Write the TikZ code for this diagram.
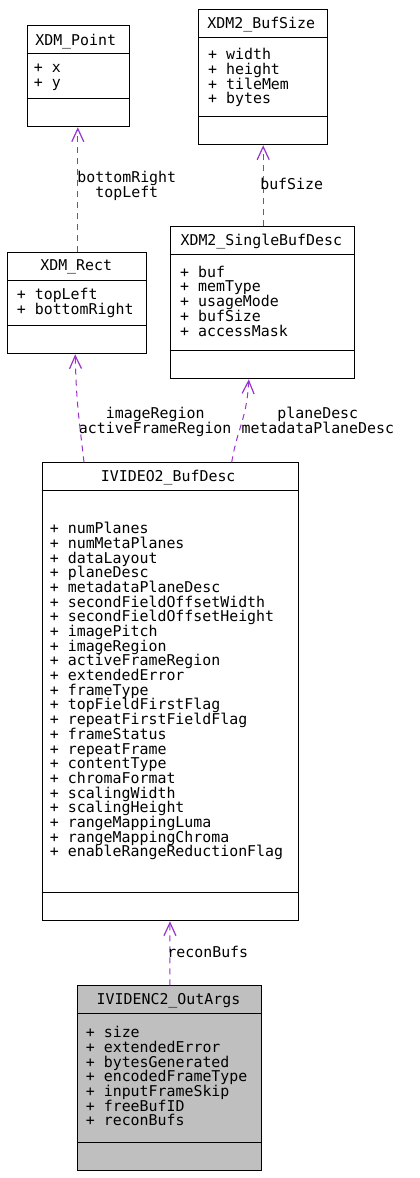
\documentclass[tikz,border=0pt]{standalone}
\usepackage{fontspec}
\newfontfamily\dxfont{DejaVu Sans Mono}
\newcommand\dxsetup{\dxfont\fontsize{14.9}{15}\selectfont\lineskiplimit=-20pt\relax}
\usetikzlibrary{arrows.meta,calc}
\definecolor{edgepurple}{HTML}{9A32CD}
\definecolor{boxgray}{HTML}{BFBFBF}
\begin{document}
\begin{tikzpicture}[x=1pt,y=-1pt,
  every node/.style={font=\dxsetup},
  classbox/.style={draw=black,line width=1pt,rectangle,inner sep=0pt,anchor=north west},
  sepline/.style={draw=black,line width=1pt},
  ttl/.style={anchor=base,inner sep=0pt},
  attr/.style={anchor=base west,inner sep=0pt,align=left},
  elabel/.style={anchor=base,inner sep=0pt,align=center},
  rel/.style={draw=edgepurple,line width=1pt,dash pattern=on 6pt off 5pt,
    -{Straight Barb[length=13pt,width=12pt,line width=1.2pt]}}
]
\useasboundingbox[fill=white] (0,0) rectangle (420,1178);

% XDM_Point
\node[classbox,minimum width=102.6pt,minimum height=101pt] (pt) at (26.7,25.3) {};
\draw[sepline] ($(pt.north west)+(0,28)$) -- ($(pt.north east)+(0,28)$);
\draw[sepline] ($(pt.north west)+(0,73)$) -- ($(pt.north east)+(0,73)$);
\node[ttl] (ptt) at (75.7,45) {XDM\_Point};
\node[attr] (pta1) at (33.7,72.8) {+ x};
\node[attr] (pta2) at (33.7,87.5) {+ y};

% XDM2_BufSize
\node[classbox,minimum width=129pt,minimum height=135pt] (bs) at (198.3,9.3) {};
\draw[sepline] ($(bs.north west)+(0,28)$) -- ($(bs.north east)+(0,28)$);
\draw[sepline] ($(bs.north west)+(0,107)$) -- ($(bs.north east)+(0,107)$);
\node[ttl] (bst) at (261.3,28.8) {XDM2\_BufSize};
\node[attr] (bsa1) at (208,59.8) {+ width};
\node[attr] (bsa2) at (208,74.5) {+ height};
\node[attr] (bsa3) at (208,89.2) {+ tileMem};
\node[attr] (bsa4) at (208,103.9) {+ bytes};

% XDM_Rect
\node[classbox,minimum width=139pt,minimum height=101pt] (rc) at (7.3,252.3) {};
\draw[sepline] ($(rc.north west)+(0,28)$) -- ($(rc.north east)+(0,28)$);
\draw[sepline] ($(rc.north west)+(0,73)$) -- ($(rc.north east)+(0,73)$);
\node[ttl] (rct) at (76.2,270.8) {XDM\_Rect};
\node[attr] (rca1) at (16.7,299.8) {+ topLeft};
\node[attr] (rca2) at (16.7,314.5) {+ bottomRight};

% XDM2_SingleBufDesc
\node[classbox,minimum width=184pt,minimum height=152pt] (sb) at (170.3,226.3) {};
\draw[sepline] ($(sb.north west)+(0,28)$) -- ($(sb.north east)+(0,28)$);
\draw[sepline] ($(sb.north west)+(0,124)$) -- ($(sb.north east)+(0,124)$);
\node[ttl] (sbt) at (261.3,245.8) {XDM2\_SingleBufDesc};
\node[attr] (sba1) at (180,277.2) {+ buf};
\node[attr] (sba2) at (180,291.9) {+ memType};
\node[attr] (sba3) at (180,306.6) {+ usageMode};
\node[attr] (sba4) at (180,321.3) {+ bufSize};
\node[attr] (sba5) at (180,336.0) {+ accessMask};

% IVIDEO2_BufDesc
\node[classbox,minimum width=256pt,minimum height=458pt] (bd) at (41.5,462.3) {};
\draw[sepline] ($(bd.north west)+(0,28)$) -- ($(bd.north east)+(0,28)$);
\draw[sepline] ($(bd.north west)+(0,430)$) -- ($(bd.north east)+(0,430)$);
\node[ttl] (bdt) at (168.2,481.8) {IVIDEO2\_BufDesc};
\coordinate (bda) at (49.7,533.8);
\foreach \t [count=\i from 0] in {numPlanes,numMetaPlanes,dataLayout,planeDesc,metadataPlaneDesc,secondFieldOffsetWidth,secondFieldOffsetHeight,imagePitch,imageRegion,activeFrameRegion,extendedError,frameType,topFieldFirstFlag,repeatFirstFieldFlag,frameStatus,repeatFrame,contentType,chromaFormat,scalingWidth,scalingHeight,rangeMappingLuma,rangeMappingChroma,enableRangeReductionFlag}
  \node[attr] (bda\i) at ($(bda)+(0,\i*14.68)$) {+ \t};

% IVIDENC2_OutArgs
\node[classbox,fill=boxgray,minimum width=184pt,minimum height=185pt] (oa) at (77.3,985.3) {};
\draw[sepline] ($(oa.north west)+(0,28)$) -- ($(oa.north east)+(0,28)$);
\draw[sepline] ($(oa.north west)+(0,157)$) -- ($(oa.north east)+(0,157)$);
\node[ttl] (oat) at (168.5,1004.8) {IVIDENC2\_OutArgs};
\coordinate (oaa) at (85.7,1037.8);
\foreach \t [count=\i from 0] in {size,extendedError,bytesGenerated,encodedFrameType,inputFrameSkip,freeBufID,reconBufs}
  \node[attr] (oaa\i) at ($(oaa)+(0,\i*14.68)$) {+ \t};

% connectors
\draw[rel] ($(rc.north)+(0.5,0)$) -- ($(pt.south)+(-0.7,0)$);
\node[elabel] (l1) at (126.8,197.5) {bottomRight\\topLeft};

\draw[rel] ($(sb.north)+(0.4,0)$) -- ($(bs.south)+(-0.1,0)$);
\node[elabel] (l2) at (291.7,189.7) {bufSize};

\draw[rel] ($(bd.north west)+(42.5,0)$) .. controls ($(bd.north west)+(38,-40)$) and ($(rc.south)+(-1,50)$) .. ($(rc.south)+(-2.1,0)$);
\node[elabel] (l3) at (155.2,433.3) {imageRegion\\activeFrameRegion};

\draw[rel] ($(bd.north west)+(190.2,0)$) .. controls ($(bd.north west)+(196,-35)$) and ($(sb.south)+(-16,40)$) .. ($(sb.south)+(-14,0)$);
\node[elabel] (l4) at (317.8,433.3) {planeDesc\\metadataPlaneDesc};

\draw[rel] (oa.north) -- (bd.south);
\node[elabel] (l5) at (207.8,957.2) {reconBufs};
\end{tikzpicture}
\end{document}
